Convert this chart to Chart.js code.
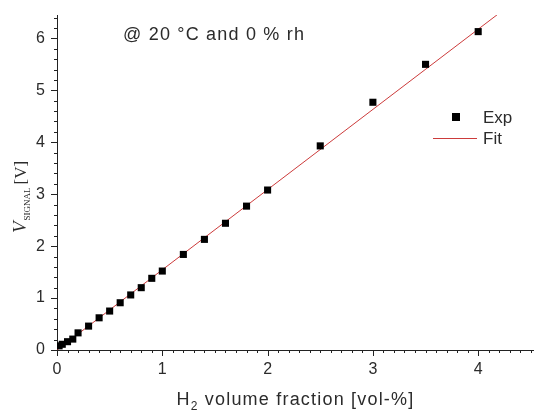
<!DOCTYPE html>
<html lang="en">
<head>
<meta charset="UTF-8">
<title>Signal vs H2 volume fraction</title>
<style>
  body { margin: 0; background: #fff; }
  canvas { display: block; }
</style>
</head>
<body>
<canvas id="chart" width="534" height="412"></canvas>

<script src="https://cdn.jsdelivr.net/npm/chart.js"></script>
<script>
  const h2Fraction = [0.02, 0.05, 0.1, 0.15, 0.2, 0.3, 0.4, 0.5, 0.6, 0.7, 0.8, 0.9, 1.0,
                      1.2, 1.4, 1.6, 1.8, 2.0, 2.5, 3.0, 3.5, 4.0];
  const vSignal = [0.08, 0.11, 0.16, 0.21, 0.33, 0.46, 0.62, 0.75, 0.91, 1.06, 1.20, 1.38, 1.52,
                   1.84, 2.13, 2.44, 2.77, 3.08, 3.93, 4.77, 5.50, 6.13];

  // linear fit, end points of the drawn line
  const fitX = [0, 4.19];
  const fitY = [0, 6.47];

  const xRange = [0, 4.53];
  const yRange = [0, 6.45];

  const textColor = '#2b2b2b';
  const axisColor = '#222';
  const fitColor = '#cc3b3b';
  const sans = '"Liberation Sans", Arial, sans-serif';
  const serif = '"Liberation Serif", "Times New Roman", serif';

  // minor/major tick marks, axis titles, note and legend
  const decorations = {
    id: 'decorations',
    afterDraw(chart) {
      const ctx = chart.ctx;
      const xs = chart.scales.x, ys = chart.scales.y;
      const area = chart.chartArea;
      ctx.save();
      ctx.strokeStyle = axisColor;
      ctx.lineWidth = 1;
      ctx.beginPath();
      for (let i = 0; i <= 45; i++) {
        const px = Math.round(xs.getPixelForValue(i / 10)) + 0.5;
        const len = i % 10 === 0 ? 6 : 3;
        ctx.moveTo(px, area.bottom);
        ctx.lineTo(px, area.bottom + len);
      }
      for (let i = 0; i <= 32; i++) {
        const py = Math.round(ys.getPixelForValue(i / 5)) + 0.5;
        const len = i % 5 === 0 ? 6 : 3;
        ctx.moveTo(area.left, py);
        ctx.lineTo(area.left - len, py);
      }
      ctx.stroke();

      ctx.fillStyle = textColor;
      ctx.textBaseline = 'alphabetic';
      ctx.textAlign = 'left';

      // x title: H2 volume fraction [vol-%]
      ctx.letterSpacing = '1.2px';
      ctx.font = '18px ' + sans;
      const xa = 'H', xb = '2', xc = ' volume fraction [vol-%]';
      const wa = ctx.measureText(xa).width;
      const wc = ctx.measureText(xc).width;
      ctx.font = '12px ' + sans;
      const wb = ctx.measureText(xb).width;
      const tx = (area.left + area.right) / 2 - (wa + wb + wc) / 2;
      const ty = 405;
      ctx.font = '18px ' + sans;
      ctx.fillText(xa, tx, ty);
      ctx.font = '12px ' + sans;
      ctx.fillText(xb, tx + wa, ty + 5);
      ctx.font = '18px ' + sans;
      ctx.fillText(xc, tx + wa + wb, ty);

      // condition note
      ctx.fillText('@ 20 °C and 0 % rh', 123, 40);
      ctx.letterSpacing = '0px';

      // y title: V_SIGNAL [V], rotated
      ctx.save();
      ctx.translate(26, 233);
      ctx.rotate(-Math.PI / 2);
      ctx.font = 'italic 19px ' + serif;
      ctx.fillText('V', 0, 0);
      let off = ctx.measureText('V').width + 1;
      ctx.font = '9px ' + serif;
      ctx.fillText('SIGNAL', off, 4);
      off += ctx.measureText('SIGNAL').width + 3;
      ctx.font = '17px ' + serif;
      ctx.fillText('[V]', off, 0);
      ctx.restore();

      // legend
      ctx.fillStyle = '#000';
      ctx.fillRect(452, 113, 8, 8);
      ctx.strokeStyle = fitColor;
      ctx.beginPath();
      ctx.moveTo(433, 138.5);
      ctx.lineTo(477, 138.5);
      ctx.stroke();
      ctx.fillStyle = textColor;
      ctx.font = '17px ' + sans;
      ctx.textBaseline = 'middle';
      ctx.fillText('Exp', 483, 118);
      ctx.fillText('Fit', 483, 139);
      ctx.restore();
    }
  };

  new Chart(document.getElementById('chart'), {
    type: 'scatter',
    data: {
      datasets: [
        {
          label: 'Exp',
          data: h2Fraction.map((x, i) => ({ x: x, y: vSignal[i] })),
          pointStyle: 'rect',
          pointRadius: 5,
          pointBorderWidth: 0,
          backgroundColor: '#000',
          borderColor: '#000'
        },
        {
          label: 'Fit',
          type: 'line',
          data: fitX.map((x, i) => ({ x: x, y: fitY[i] })),
          borderColor: fitColor,
          borderWidth: 1,
          pointRadius: 0,
          fill: false
        }
      ]
    },
    options: {
      responsive: false,
      animation: false,
      layout: { autoPadding: false, padding: { top: 15, right: 0, left: 0, bottom: 0 } },
      plugins: {
        legend: { display: false },
        tooltip: { enabled: false }
      },
      scales: {
        x: {
          type: 'linear',
          min: xRange[0],
          max: xRange[1],
          afterFit(scale) {
            scale.height = 62;
            scale.paddingLeft = 0;
            scale.paddingRight = 0;
          },
          grid: { display: false, drawTicks: false },
          border: { display: true, color: axisColor, width: 1 },
          ticks: {
            stepSize: 1,
            includeBounds: false,
            padding: 10,
            color: textColor,
            font: { family: sans, size: 16 },
            callback: v => Number.isInteger(v) ? String(v) : ''
          }
        },
        y: {
          type: 'linear',
          min: yRange[0],
          max: yRange[1],
          afterFit(scale) {
            scale.width = 57;
            scale.paddingTop = 0;
            scale.paddingBottom = 0;
          },
          grid: { display: false, drawTicks: false },
          border: { display: true, color: axisColor, width: 1 },
          ticks: {
            stepSize: 1,
            includeBounds: false,
            padding: 12,
            color: textColor,
            font: { family: sans, size: 16 },
            callback: v => Number.isInteger(v) ? String(v) : ''
          }
        }
      }
    },
    plugins: [decorations]
  });
</script>
</body>
</html>
